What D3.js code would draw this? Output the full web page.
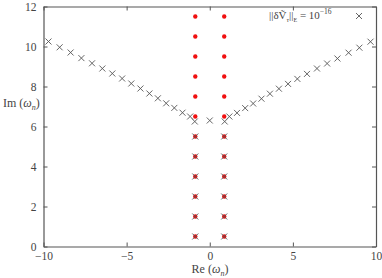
<!DOCTYPE html>
<html>
<head>
<script src="https://d3js.org/d3.v7.min.js"></script>
<style>
  body { margin: 0; background: #fff; }
  text { font-family: "Liberation Serif", "DejaVu Serif", serif; fill: #444; }
</style>
</head>
<body>
<svg id="chart" width="382" height="278"></svg>
<script>
// red points (modes)
var redRe = [-0.87, 0.87];
var redIm = [0.5, 1.5, 2.5, 3.5, 4.5, 5.5, 6.5, 7.5, 8.5, 9.5, 10.5, 11.5];

// crosses: ||dV||_E = 1e-16
var crossRe = [
  -0.87, 0.87, -0.87, 0.87, -0.87, 0.87, -0.87, 0.87, -0.87, 0.87, -0.87, 0.87,
  -0.9, 0.0, 0.9,
  -1.18, -1.64, -2.13, -2.62, -3.12, -3.63, -4.17, -4.72, -5.27, -5.86, -6.46, -7.08, -7.72, -8.37, -9.03, -9.70,
  1.18, 1.64, 2.13, 2.61, 3.11, 3.62, 4.16, 4.71, 5.27, 5.85, 6.45, 7.06, 7.68, 8.35, 9.00, 9.67
];
var crossIm = [
  0.5, 0.5, 1.5, 1.5, 2.5, 2.5, 3.5, 3.5, 4.5, 4.5, 5.5, 5.5,
  6.25, 6.3, 6.25,
  6.50, 6.69, 6.93, 7.16, 7.41, 7.65, 7.90, 8.15, 8.40, 8.65, 8.90, 9.16, 9.42, 9.70, 9.96, 10.25,
  6.50, 6.68, 6.92, 7.15, 7.39, 7.64, 7.89, 8.13, 8.38, 8.63, 8.90, 9.15, 9.40, 9.69, 9.94, 10.24
];

var xTicks = [-10, -5, 0, 5, 10];
var yTicks = [0, 2, 4, 6, 8, 10, 12];

var svg = d3.select("#chart");
var x = d3.scaleLinear([-10, 10], [43.5, 376]);
var y = d3.scaleLinear([0, 12], [246.5, 6.5]);
var frame = "#555";

var fmt = d => d < 0 ? "\u2212" + Math.abs(d) : "" + d;

// axes with inward ticks
svg.append("g").attr("transform", "translate(0,246.5)")
  .call(d3.axisBottom(x).tickValues(xTicks).tickSizeInner(-4).tickSizeOuter(0).tickPadding(5).tickFormat(fmt));
svg.append("g").attr("transform", "translate(0,6.5)")
  .call(d3.axisTop(x).tickValues(xTicks).tickSizeInner(-4).tickSizeOuter(0).tickFormat(""));
svg.append("g").attr("transform", "translate(43.5,0)")
  .call(d3.axisLeft(y).tickValues(yTicks).tickSizeInner(-4).tickSizeOuter(0).tickPadding(7).tickFormat(fmt));
svg.append("g").attr("transform", "translate(376,0)")
  .call(d3.axisRight(y).tickValues(yTicks).tickSizeInner(-4).tickSizeOuter(0).tickFormat(""));

svg.selectAll("g").attr("font-family", '"Liberation Serif", serif').attr("font-size", 11.5);
svg.selectAll(".domain").attr("stroke", frame).attr("stroke-width", 1.2);
svg.selectAll(".tick line").attr("stroke", frame);
svg.selectAll(".tick text").attr("fill", "#444");

// red dots
var reds = [];
redRe.forEach(r => redIm.forEach(i => reds.push([r, i])));
svg.append("g").selectAll("circle")
  .data(reds).join("circle")
  .attr("cx", d => x(d[0])).attr("cy", d => y(d[1]))
  .attr("r", 2.2).attr("fill", "#f01010");

// crosses
var s = 3;
var cross = d3.range(crossRe.length).map(i => [crossRe[i], crossIm[i]]);
svg.append("g").selectAll("path")
  .data(cross).join("path")
  .attr("d", d => {
    var cx = x(d[0]), cy = y(d[1]);
    return "M" + (cx - s) + "," + (cy - s) + "L" + (cx + s) + "," + (cy + s) +
           "M" + (cx - s) + "," + (cy + s) + "L" + (cx + s) + "," + (cy - s);
  })
  .attr("stroke", "#555").attr("stroke-width", 0.9).attr("fill", "none");

// legend
var lg = svg.append("text").attr("x", 269).attr("y", 19).style("font-size", "11px").attr("fill", "#666");
lg.append("tspan").text("||\u03b4V\u0303");
lg.append("tspan").attr("dy", 3).style("font-size", "7px").style("font-style", "italic").text("\u03c4");
lg.append("tspan").attr("dy", -3).text("||");
lg.append("tspan").attr("dy", 3).style("font-size", "6px").text("E");
lg.append("tspan").attr("dy", -3).text(" = 10");
lg.append("tspan").attr("dy", -5).style("font-size", "7.5px").text("\u221216");
var lx = 359, ly = 16;
svg.append("path")
  .attr("d", "M" + (lx - s) + "," + (ly - s) + "L" + (lx + s) + "," + (ly + s) + "M" + (lx - s) + "," + (ly + s) + "L" + (lx + s) + "," + (ly - s))
  .attr("stroke", "#555").attr("stroke-width", 0.9);

// axis labels
var yl = svg.append("text").attr("x", 3).attr("y", 107).style("font-size", "12px");
yl.append("tspan").text("Im (");
yl.append("tspan").style("font-style", "italic").text("\u03c9");
yl.append("tspan").attr("dy", 3).style("font-size", "8px").style("font-style", "italic").text("n");
yl.append("tspan").attr("dy", -3).text(")");

var xl = svg.append("text").attr("x", 210).attr("y", 273).attr("text-anchor", "middle").style("font-size", "12px");
xl.append("tspan").text("Re (");
xl.append("tspan").style("font-style", "italic").text("\u03c9");
xl.append("tspan").attr("dy", 3).style("font-size", "8px").style("font-style", "italic").text("n");
xl.append("tspan").attr("dy", -3).text(")");
</script>
</body>
</html>
